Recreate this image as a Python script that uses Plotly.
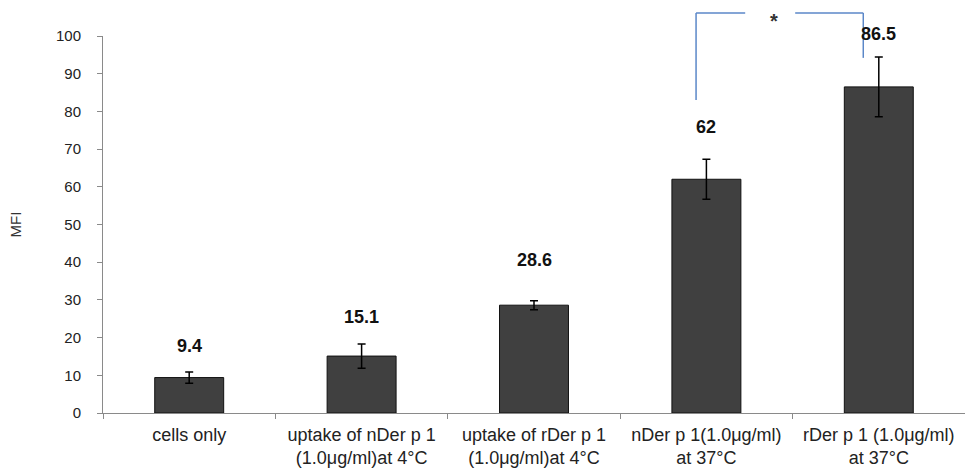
import plotly.graph_objects as go

# MFI of cells after Der p 1 uptake
categories = [
    "cells only",
    "uptake of nDer p 1<br>(1.0μg/ml)at 4°C",
    "uptake of rDer p 1<br>(1.0μg/ml)at 4°C",
    "nDer p 1(1.0μg/ml)<br>at 37°C",
    "rDer p 1 (1.0μg/ml)<br>at 37°C",
]
mfi = [9.4, 15.1, 28.6, 62, 86.5]
mfi_err = [1.5, 3.2, 1.2, 5.3, 7.9]
value_labels = ["9.4", "15.1", "28.6", "62", "86.5"]

FONT = "Arial, Liberation Sans, sans-serif"

fig = go.Figure()
fig.add_trace(go.Bar(
    x=categories,
    y=mfi,
    marker=dict(color="#404040", line=dict(color="#111111", width=1)),
    error_y=dict(type="data", array=mfi_err, color="#000000", thickness=1.5, width=4),
    width=0.4,
    hoverinfo="skip",
))

# value labels above each error bar
label_shift = [24, 25, 39, 30, 21]
for cat, v, e, t, s in zip(categories, mfi, mfi_err, value_labels, label_shift):
    fig.add_annotation(
        x=cat, y=v + e, text=f"<b>{t}</b>", showarrow=False, yanchor="bottom",
        yshift=s - 10, font=dict(family=FONT, size=18, color="#111111"),
    )

# significance bracket between the two 37°C groups
bracket_color = "#5b87c8"
i_n, i_r = 3, 4
y_top = 1.061
fig.add_shape(type="line", xref="x", yref="paper", x0=i_n - 0.06, x1=i_n - 0.06,
              y0=0.83, y1=y_top, line=dict(color=bracket_color, width=1.5))
fig.add_shape(type="line", xref="x", yref="paper", x0=i_n - 0.06, x1=i_n + 0.225,
              y0=y_top, y1=y_top, line=dict(color=bracket_color, width=1.5))
fig.add_shape(type="line", xref="x", yref="paper", x0=i_n + 0.515, x1=i_r - 0.09,
              y0=y_top, y1=y_top, line=dict(color=bracket_color, width=1.5))
fig.add_shape(type="line", xref="x", yref="paper", x0=i_r - 0.09, x1=i_r - 0.09,
              y0=0.942, y1=y_top, line=dict(color=bracket_color, width=1.5))
fig.add_annotation(xref="x", yref="paper", x=i_n + 0.39, y=1.04, text="<b>*</b>",
                   showarrow=False, yanchor="middle",
                   font=dict(family=FONT, size=20, color="#333333"))

fig.update_layout(
    width=965, height=471,
    margin=dict(l=103, r=0, t=36, b=58),
    paper_bgcolor="white", plot_bgcolor="white",
    showlegend=False,
    bargap=0.6,
    font=dict(family=FONT, color="#333333"),
)
fig.update_yaxes(
    range=[0, 100], dtick=10, showgrid=False, zeroline=False,
    showline=True, linecolor="#8a8a8a", linewidth=1,
    ticks="outside", ticklen=5, tickcolor="#8a8a8a",
    tickfont=dict(family=FONT, size=15, color="#222222"),
    ticklabelstandoff=13,
    title=dict(text="MFI", font=dict(family=FONT, size=15, color="#333333"), standoff=30),
)
fig.update_xaxes(
    showgrid=False, showline=True, linecolor="#8a8a8a", linewidth=1,
    ticks="outside", ticklen=5, tickcolor="#8a8a8a", tickson="boundaries",
    tickfont=dict(family=FONT, size=18, color="#222222"),
    tickangle=0, ticklabelstandoff=5,
)

fig.write_html("out.html")
